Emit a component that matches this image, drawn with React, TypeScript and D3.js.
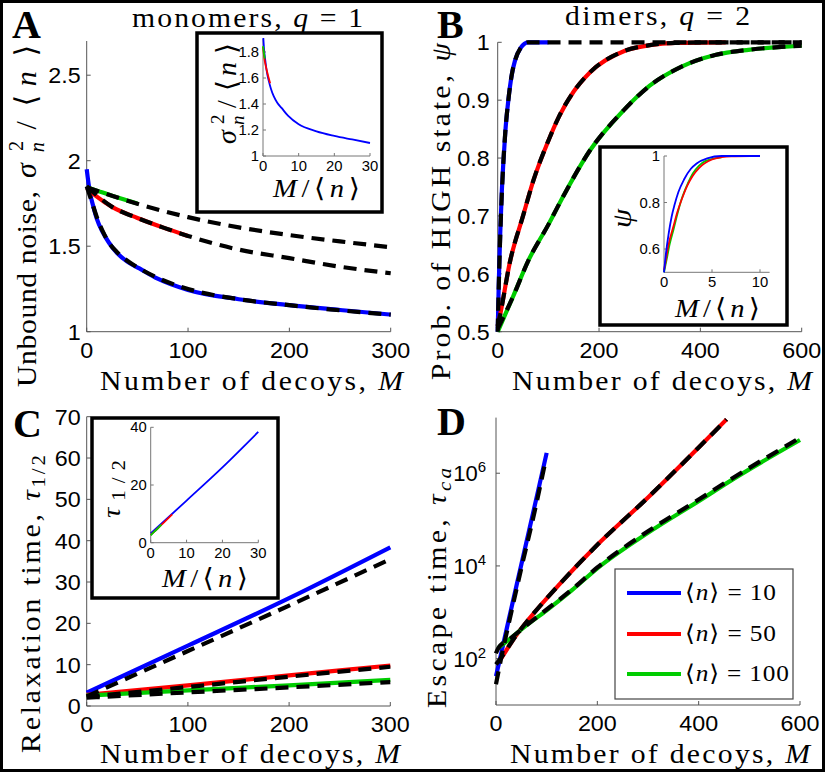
import React from 'react';
import * as d3 from 'd3';

const W = 830, H = 776;
const BLUE = '#0000ff', RED = '#ff0000', GREEN = '#00cc00';
const SERIF = "'Liberation Serif', 'DejaVu Serif', serif";
const SANS = "'Liberation Sans', Arial, sans-serif";

const N_VALUES = [10, 50, 100];
const LEGEND_LABELS = ['10', '50', '100'];

// ---------- Panel A : monomers, unbound noise ----------
const A_M_blue = [0, 3, 6.5, 10, 16, 22, 30, 40, 52, 70, 100, 150, 200, 250, 300];
const A_blue = [1.95, 1.82, 1.733, 1.66, 1.58, 1.52, 1.46, 1.41, 1.37, 1.31, 1.244, 1.19, 1.155, 1.127, 1.1];
const A_M_blueFit = [0, 5, 10, 16, 22, 30, 40, 52, 70, 100, 150, 200, 250, 300];
const A_blueFit = [1.85, 1.76, 1.67, 1.585, 1.52, 1.465, 1.415, 1.37, 1.315, 1.25, 1.19, 1.155, 1.125, 1.1];
const A_M_red = [0, 10, 25, 50, 75, 100];
const A_red = [1.84, 1.79, 1.73, 1.665, 1.61, 1.56];
const A_M_redFit = [0, 25, 50, 75, 100, 150, 200, 250, 300];
const A_redFit = [1.85, 1.73, 1.665, 1.61, 1.56, 1.48, 1.43, 1.38, 1.342];
const A_M_green = [0, 10, 25, 50];
const A_green = [1.845, 1.825, 1.795, 1.75];
const A_M_greenFit = [0, 50, 100, 150, 200, 250, 300];
const A_greenFit = [1.845, 1.748, 1.67, 1.61, 1.565, 1.528, 1.494];
const A_xTicks = [0, 100, 200, 300];
const A_yTicks = [1, 1.5, 2, 2.5];
const A_inXTicks = [0, 10, 20, 30];
const A_inYTicks = [1, 1.2, 1.4, 1.6, 1.8];

// ---------- Panel B : dimers, prob. of HIGH state ----------
const B_M_blue = [0, 2, 5, 8, 11, 15, 21, 28, 34, 45, 60, 100];
const B_blue = [0.5, 0.58, 0.67, 0.74, 0.79, 0.845, 0.9, 0.945, 0.968, 0.99, 1.0, 1.0];
const B_M_blueFit = [0, 2, 5, 8, 11, 15, 21, 28, 34, 45, 60, 100, 600];
const B_blueFit = [0.5, 0.575, 0.665, 0.735, 0.79, 0.845, 0.9, 0.945, 0.968, 0.99, 1.0, 1.0, 1.0];
const B_M_red = [0, 5, 24, 50, 70, 100, 120, 150, 182, 250, 300, 350, 450];
const B_red = [0.51, 0.53, 0.62, 0.7, 0.76, 0.83, 0.87, 0.915, 0.948, 0.985, 0.995, 0.999, 1.0];
const B_M_redFit = [0, 5, 24, 50, 70, 100, 120, 150, 182, 250, 300, 350, 450, 600];
const B_redFit = [0.51, 0.53, 0.62, 0.7, 0.76, 0.83, 0.87, 0.915, 0.948, 0.985, 0.995, 0.999, 1.0, 1.0];
const B_M_green = [0, 30, 60, 100, 130, 182, 248, 300, 363, 429, 495, 560, 600];
const B_green = [0.5, 0.56, 0.622, 0.685, 0.735, 0.813, 0.882, 0.925, 0.958, 0.978, 0.987, 0.992, 0.994];
const B_greenFit = [0.505, 0.56, 0.622, 0.685, 0.735, 0.813, 0.882, 0.925, 0.958, 0.978, 0.987, 0.992, 0.994];
const B_xTicks = [0, 200, 400, 600];
const B_yTicks = [0.5, 0.6, 0.7, 0.8, 0.9, 1];
const B_inXTicks = [0, 5, 10];
const B_inYTicks = [0.6, 0.8, 1];

// ---------- Panel C : relaxation time ----------
const C_M = [0, 100, 200, 300];
const C_blue = [3.2, 14.6, 26.1, 38.4];
const C_blueFit = [2.3, 13.3, 24.3, 35.5];
const C_red = [2.7, 5.0, 7.4, 9.8];
const C_redFit = [2.2, 4.6, 7.1, 9.5];
const C_green = [2.5, 3.8, 5.0, 6.3];
const C_greenFit = [2.0, 3.3, 4.5, 5.8];
const C_xTicks = [0, 100, 200, 300];
const C_yTicks = [0, 10, 20, 30, 40, 50, 60, 70];
const C_inXTicks = [0, 10, 20, 30];
const C_inYTicks = [0, 20, 40];

// ---------- Panel D : escape time ----------
const D_M_blue = [0, 10, 25, 50, 75, 100];
const D_blue = [42, 126, 680, 1.07e4, 1.7e5, 2.75e6];
const D_M_blueFit = [0, 10, 25, 50, 75, 98];
const D_blueFit = [28, 100, 560, 9000, 1.3e5, 1.9e6];
const D_M_red = [10, 40, 67, 126, 202, 300, 400, 455];
const D_red = [100, 320, 760, 4100, 3.0e4, 3.0e5, 3.6e6, 1.45e7];
const D_M_redFit = [0, 10, 40, 67, 126, 202, 300, 400, 455];
const D_redFit = [75, 105, 320, 760, 4100, 3.0e4, 3.0e5, 3.6e6, 1.45e7];
const D_M_green = [4, 30, 60, 100, 150, 200, 300, 400, 465, 600];
const D_green = [170, 280, 520, 1100, 3000, 8900, 5.2e4, 2.5e5, 7.1e5, 5.2e6];
const D_M_greenFit = [0, 4, 30, 60, 100, 150, 200, 300, 400, 465, 600];
const D_greenFit = [130, 165, 280, 520, 1150, 3100, 9300, 5.6e4, 2.7e5, 7.6e5, 5.8e6];
const D_xTicks = [0, 200, 400, 600];
const D_yTicks = [1e2, 1e4, 1e6];

type Line = { xs: number[]; ys: number[]; color: string; w: number; dash?: boolean };

function pathOf(xs: number[], ys: number[], x: any, y: any) {
  const pts = xs.map((v, i) => [x(v), y(ys[i])] as [number, number]);
  return d3.line().curve(d3.curveMonotoneX)(pts) || '';
}

const fmt = d3.format('~g');
const TSX = 1.06; // horizontal stretch of tick labels
const LSX = 1.1; // horizontal stretch of serif labels

function Num({ x, y, anchor, fs, dy, children }: any) {
  return (
    <g transform={`translate(${x},${y}) scale(${TSX},1)`}>
      <text x={0} y={0} dy={dy} textAnchor={anchor} fontFamily={SANS} fontSize={fs}>{children}</text>
    </g>
  );
}

function Plot(props: any) {
  const { id, x, y, lines, xTicks, yTicks, fs, tickLen, xLabGap, yLabGap, axisColor, clipPad, yTickLabel } = props;
  const [x0, x1] = x.range();
  const [yb, yt] = y.range();
  return (
    <g>
      <defs>
        <clipPath id={id}>
          <rect x={x0 - clipPad} y={yt - clipPad} width={x1 - x0 + 2 * clipPad} height={yb - yt + 2 * clipPad} />
        </clipPath>
      </defs>
      <line x1={x0} x2={x0} y1={yb} y2={yt} stroke={axisColor} strokeWidth={1} />
      <line x1={x0} x2={x1} y1={yb} y2={yb} stroke={axisColor} strokeWidth={1} />
      {xTicks.map((v: number) => (
        <g key={'x' + v}>
          <line x1={x(v)} x2={x(v)} y1={yb} y2={yb - tickLen} stroke={axisColor} />
          <Num x={x(v)} y={yb + xLabGap} anchor="middle" fs={fs}>{fmt(v)}</Num>
        </g>
      ))}
      {yTicks.map((v: number) => (
        <g key={'y' + v}>
          <line x1={x0} x2={x0 + tickLen} y1={y(v)} y2={y(v)} stroke={axisColor} />
          {yTickLabel ? yTickLabel(v, x0 - yLabGap, y(v)) : (
            <Num x={x0 - yLabGap} y={y(v)} dy="0.36em" anchor="end" fs={fs}>{fmt(v)}</Num>
          )}
        </g>
      ))}
      <g clipPath={`url(#${id})`}>
        {lines.map((l: Line, i: number) => (
          <path key={i} d={pathOf(l.xs, l.ys, x, y)} fill="none" stroke={l.color} strokeWidth={l.w}
            strokeDasharray={l.dash ? '13 8' : undefined} strokeLinejoin="round" />
        ))}
      </g>
    </g>
  );
}

// serif label, optionally rotated, stretched horizontally and spread to a given length
function STxt({ x, y, len, fs, rot = 0, sx = LSX, children, italic }: any) {
  return (
    <g transform={`translate(${x},${y}) rotate(${rot}) scale(${sx},1)`}>
      <text x={0} y={0} textLength={len ? len / sx : undefined} lengthAdjust="spacing" fontFamily={SERIF}
        fontSize={fs} fontStyle={italic ? 'italic' : 'normal'}>{children}</text>
    </g>
  );
}

// sigma_n^2 / <n>, rotated; pieces placed along the reading direction over length L
function SigmaLabel({ x, y, F, L }: any) {
  const p = (t: string, off: number, dy: number, size: number, it: boolean, k: string) => (
    <text key={k} x={off * L} y={dy * F} fontSize={size * F} fontFamily={SERIF} fontStyle={it ? 'italic' : 'normal'}>{t}</text>
  );
  return (
    <g transform={`translate(${x},${y}) rotate(-90)`}>
      {p('σ', 0, 0, 1, true, 'a')}
      {p('2', 0.2, -0.42, 0.68, false, 'b')}
      {p('n', 0.19, 0.28, 0.68, true, 'c')}
      {p('/', 0.36, 0, 1, false, 'd')}
      {p('\u27E8', 0.53, 0, 1, false, 'e')}
      {p('n', 0.68, 0, 1, true, 'f')}
      {p('\u27E9', 0.9, 0, 1, false, 'g')}
    </g>
  );
}

function MoverN({ x, y, len, fs }: any) {
  return (
    <STxt x={x} y={y} len={len} fs={fs}>
      <tspan fontStyle="italic">M</tspan>/{'\u27E8'}<tspan fontStyle="italic">n</tspan>{'\u27E9'}
    </STxt>
  );
}

export default function App() {
  const axA = d3.scaleLinear().domain([0, 300]).range([86.7, 390.7]);
  const ayA = d3.scaleLinear().domain([1, 2.7]).range([331.7, 41]);
  const axB = d3.scaleLinear().domain([0, 600]).range([497.7, 801.7]);
  const ayB = d3.scaleLinear().domain([0.5, 1]).range([331.7, 42.3]);
  const axC = d3.scaleLinear().domain([0, 300]).range([86.7, 390.3]);
  const ayC = d3.scaleLinear().domain([0, 70]).range([706, 416.7]);
  const axD = d3.scaleLinear().domain([0, 600]).range([496, 800]);
  const ayD = d3.scaleLog().domain([10, 10 ** 7.2]).range([705, 417.6]);

  const ixA = d3.scaleLinear().domain([0, 30]).range([263, 370]);
  const iyA = d3.scaleLinear().domain([1, 1.9]).range([156, 39]);
  const ixB = d3.scaleLinear().domain([0, 11]).range([664, 769.6]);
  const iyB = d3.scaleLinear().domain([0.5, 1]).range([272.3, 156]);
  const ixC = d3.scaleLinear().domain([0, 30]).range([150.7, 258.3]);
  const iyC = d3.scaleLinear().domain([0, 40]).range([542.7, 427.3]);

  const MW = 4.2, IW = 1.8;
  const cols = [BLUE, RED, GREEN];
  const scaled = (xs: number[], n: number) => xs.map((m) => m / n);

  const linesA: Line[] = [
    { xs: A_M_blue, ys: A_blue, color: BLUE, w: MW },
    { xs: A_M_red, ys: A_red, color: RED, w: MW },
    { xs: A_M_green, ys: A_green, color: GREEN, w: MW },
    { xs: A_M_blueFit, ys: A_blueFit, color: '#000', w: MW, dash: true },
    { xs: A_M_redFit, ys: A_redFit, color: '#000', w: MW, dash: true },
    { xs: A_M_greenFit, ys: A_greenFit, color: '#000', w: MW, dash: true },
  ];
  const inA: Line[] = [
    { xs: scaled(A_M_blue, N_VALUES[0]), ys: A_blue, color: BLUE, w: IW },
    { xs: scaled(A_M_red, N_VALUES[1]), ys: A_red, color: RED, w: IW },
    { xs: scaled(A_M_green, N_VALUES[2]), ys: A_green, color: GREEN, w: IW },
  ];
  const linesB: Line[] = [
    { xs: B_M_blue, ys: B_blue, color: BLUE, w: MW },
    { xs: B_M_red, ys: B_red, color: RED, w: MW },
    { xs: B_M_green, ys: B_green, color: GREEN, w: MW },
    { xs: B_M_blueFit, ys: B_blueFit, color: '#000', w: MW, dash: true },
    { xs: B_M_redFit, ys: B_redFit, color: '#000', w: MW, dash: true },
    { xs: B_M_green, ys: B_greenFit, color: '#000', w: MW, dash: true },
  ];
  const inB: Line[] = [
    { xs: scaled(B_M_green, N_VALUES[2]), ys: B_green, color: GREEN, w: IW },
    { xs: scaled(B_M_red, N_VALUES[1]), ys: B_red, color: RED, w: IW },
    { xs: scaled(B_M_blue, N_VALUES[0]), ys: B_blue, color: BLUE, w: IW },
  ];
  const linesC: Line[] = [
    { xs: C_M, ys: C_blue, color: BLUE, w: MW },
    { xs: C_M, ys: C_red, color: RED, w: MW },
    { xs: C_M, ys: C_green, color: GREEN, w: MW },
    { xs: C_M, ys: C_blueFit, color: '#000', w: MW, dash: true },
    { xs: C_M, ys: C_redFit, color: '#000', w: MW, dash: true },
    { xs: C_M, ys: C_greenFit, color: '#000', w: MW, dash: true },
  ];
  const inC: Line[] = [
    { xs: scaled(C_M, N_VALUES[0]), ys: C_blue, color: BLUE, w: IW },
    { xs: scaled(C_M, N_VALUES[1]), ys: C_red, color: RED, w: IW },
    { xs: scaled(C_M, N_VALUES[2]), ys: C_green, color: GREEN, w: IW },
  ];
  const linesD: Line[] = [
    { xs: D_M_blue, ys: D_blue, color: BLUE, w: MW },
    { xs: D_M_red, ys: D_red, color: RED, w: MW },
    { xs: D_M_green, ys: D_green, color: GREEN, w: MW },
    { xs: D_M_blueFit, ys: D_blueFit, color: '#000', w: MW, dash: true },
    { xs: D_M_redFit, ys: D_redFit, color: '#000', w: MW, dash: true },
    { xs: D_M_greenFit, ys: D_greenFit, color: '#000', w: MW, dash: true },
  ];

  const mainCommon = { fs: 22, tickLen: 4, xLabGap: 26, yLabGap: 6, axisColor: '#555', clipPad: 3 };
  const inCommon = { fs: 14, tickLen: 3, xLabGap: 15, yLabGap: 4, axisColor: '#777', clipPad: 1 };

  const powLabel = (v: number, x: number, y: number) => (
    <text x={x - 4} y={y} dy="0.36em" textAnchor="end" fontFamily={SANS} fontSize={22}>
      10<tspan fontSize={15} dy={-9}>{Math.round(Math.log10(v))}</tspan>
    </text>
  );

  const legendY = [593, 634, 674];

  return (
    <svg width={W} height={H} style={{ position: 'absolute', left: 0, top: 0, background: '#fff' }}
      xmlns="http://www.w3.org/2000/svg">
      <rect x={0} y={0} width={W} height={H} fill="#fff" />

      {/* Panel A */}
      <Plot id="cA" x={axA} y={ayA} lines={linesA} xTicks={A_xTicks} yTicks={A_yTicks} {...mainCommon} />
      <text x={12} y={38} fontFamily={SERIF} fontWeight="bold" fontSize={40}>A</text>
      <STxt x={132} y={27} len={231} fs={27}>monomers, <tspan fontStyle="italic">q</tspan> = 1</STxt>
      <STxt x={100} y={390} len={303} fs={27}>Number of decoys, <tspan fontStyle="italic">M</tspan></STxt>
      <STxt x={36} y={387} len={196} fs={27} rot={-90}>Unbound noise,</STxt>
      <SigmaLabel x={36} y={178} F={30} L={135} />
      <rect x={197} y={33} width={185} height={179} fill="#fff" stroke="#000" strokeWidth={3.5} />
      <Plot id="ciA" x={ixA} y={iyA} lines={inA} xTicks={A_inXTicks} yTicks={A_inYTicks} {...inCommon} />
      <SigmaLabel x={236} y={144} F={28} L={100} />
      <MoverN x={273} y={197} len={87} fs={26} />

      {/* Panel B */}
      <Plot id="cB" x={axB} y={ayB} lines={linesB} xTicks={B_xTicks} yTicks={B_yTicks} {...mainCommon} yLabGap={8} />
      <text x={437} y={38} fontFamily={SERIF} fontWeight="bold" fontSize={40}>B</text>
      <STxt x={565} y={25} len={185} fs={27}>dimers, <tspan fontStyle="italic">q</tspan> = 2</STxt>
      <STxt x={512} y={390} len={300} fs={27}>Number of decoys, <tspan fontStyle="italic">M</tspan></STxt>
      <STxt x={450} y={380} len={337} fs={27} rot={-90}>Prob. of HIGH state, <tspan fontStyle="italic">ψ</tspan></STxt>
      <rect x={600} y={147} width={187} height={178} fill="#fff" stroke="#000" strokeWidth={3.5} />
      <Plot id="ciB" x={ixB} y={iyB} lines={inB} xTicks={B_inXTicks} yTicks={B_inYTicks} {...inCommon} />
      <STxt x={631} y={228} fs={28} rot={-90} italic>ψ</STxt>
      <MoverN x={675} y={317} len={85} fs={26} />

      {/* Panel C */}
      <Plot id="cC" x={axC} y={ayC} lines={linesC} xTicks={C_xTicks} yTicks={C_yTicks} {...mainCommon} />
      <text x={13} y={437} fontFamily={SERIF} fontWeight="bold" fontSize={40}>C</text>
      <STxt x={100} y={763} len={300} fs={27}>Number of decoys, <tspan fontStyle="italic">M</tspan></STxt>
      <STxt x={40} y={753} len={298} fs={27} rot={-90}>
        Relaxation time, <tspan fontStyle="italic">τ</tspan><tspan fontSize={19} dy={5}>1/2</tspan>
      </STxt>
      <rect x={92} y={418} width={186} height={180} fill="#fff" stroke="#000" strokeWidth={3.5} />
      <Plot id="ciC" x={ixC} y={iyC} lines={inC} xTicks={C_inXTicks} yTicks={C_inYTicks} {...inCommon} />
      <STxt x={120} y={518} len={58} fs={26} rot={-90}>
        <tspan fontStyle="italic">τ</tspan><tspan fontSize={19} dy={5}>1/2</tspan>
      </STxt>
      <MoverN x={162} y={587} len={86} fs={26} />

      {/* Panel D */}
      <Plot id="cD" x={axD} y={ayD} lines={linesD} xTicks={D_xTicks} yTicks={D_yTicks} {...mainCommon}
        yTickLabel={powLabel} />
      <text x={437} y={435} fontFamily={SERIF} fontWeight="bold" fontSize={40}>D</text>
      <STxt x={510} y={763} len={300} fs={27}>Number of decoys, <tspan fontStyle="italic">M</tspan></STxt>
      <STxt x={446} y={708} len={240} fs={27} rot={-90}>
        Escape time, <tspan fontStyle="italic">τ</tspan><tspan fontSize={19} dy={5} fontStyle="italic">ca</tspan>
      </STxt>
      <rect x={615} y={569} width={178} height={130} fill="#fff" stroke="#444" strokeWidth={1.2} />
      {N_VALUES.map((n, i) => (
        <g key={n}>
          <line x1={627} x2={681} y1={legendY[i]} y2={legendY[i]} stroke={cols[i]} strokeWidth={4} />
          <STxt x={685} y={legendY[i] + 7} len={i === 2 ? 104 : 91} fs={23}>
            {'\u27E8'}<tspan fontStyle="italic">n</tspan>{'\u27E9'} = {LEGEND_LABELS[i]}
          </STxt>
        </g>
      ))}

      <rect x={1.5} y={1.5} width={822} height={769} fill="none" stroke="#000" strokeWidth={3} />
    </svg>
  );
}
